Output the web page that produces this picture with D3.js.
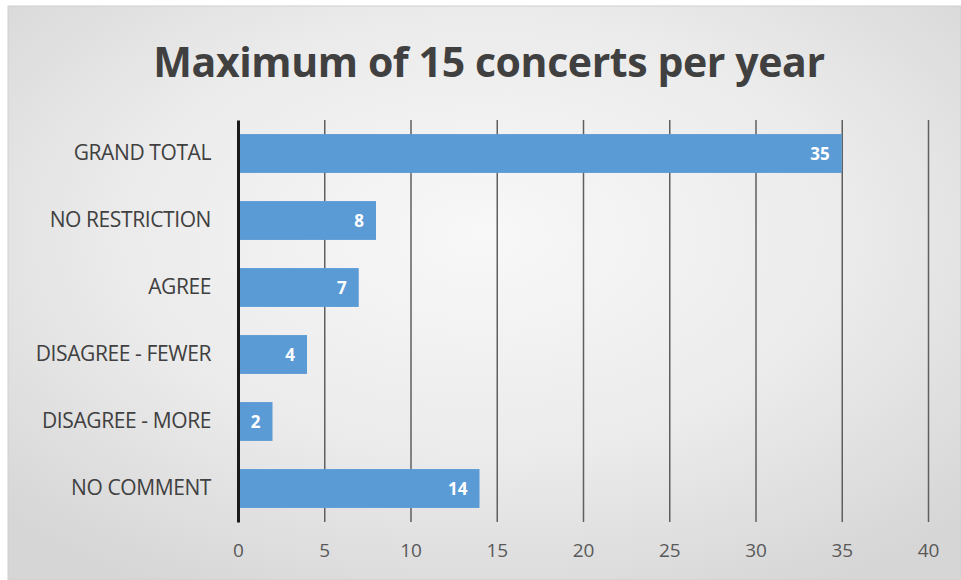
<!DOCTYPE html>
<html>
<head>
<meta charset="utf-8">
<script src="https://cdn.jsdelivr.net/npm/d3@7"></script>
<style>
  html, body { margin: 0; padding: 0; background: #ffffff; }
  svg { display: block; }
</style>
</head>
<body>
<svg id="chart" width="961" height="580"></svg>
<script>
// Survey responses on a cap of 15 concerts per year
const categories = ["GRAND TOTAL", "NO RESTRICTION", "AGREE", "DISAGREE - FEWER", "DISAGREE - MORE", "NO COMMENT"];
const counts = [35, 8, 7, 4, 2, 14];
const xTicks = [0, 5, 10, 15, 20, 25, 30, 35, 40];
const chartTitle = "Maximum of 15 concerts per year";

const W = 961, H = 580;
const svg = d3.select("#chart");

// Soft grey panel background with a lighter centre
const defs = svg.append("defs");
const grad = defs.append("radialGradient")
  .attr("id", "bg").attr("cx", "50%").attr("cy", "40%").attr("r", "70%");
grad.append("stop").attr("offset", "0%").attr("stop-color", "#f8f8f8");
grad.append("stop").attr("offset", "55%").attr("stop-color", "#ebebeb");
grad.append("stop").attr("offset", "100%").attr("stop-color", "#d6d6d6");

svg.append("rect").attr("x", 0).attr("y", 0).attr("width", W).attr("height", H).attr("fill", "#ffffff");
svg.append("rect")
  .attr("x", 8).attr("y", 6).attr("width", W - 8).attr("height", H - 6)
  .attr("fill", "url(#bg)")
  .attr("stroke", "#cfcfcf").attr("stroke-width", 1);

const margin = { left: 238, top: 120 };
const plotH = 402;

const x = d3.scaleLinear().domain([0, 40]).range([margin.left, margin.left + 690]);
const y = d3.scaleBand().domain(categories).range([margin.top, margin.top + plotH]).paddingInner(0.42).paddingOuter(0.21);

// Title
svg.append("text")
  .attr("x", 489).attr("y", 77)
  .attr("text-anchor", "middle")
  .attr("font-family", "'Open Sans', sans-serif")
  .attr("font-weight", 700)
  .attr("font-size", 41)
  .attr("letter-spacing", -0.4)
  .attr("fill", "#404040")
  .text(chartTitle);

// Vertical gridlines
const gridAxis = d3.axisBottom(x).tickValues(xTicks.slice(1)).tickSize(-plotH).tickFormat("");
const grid = svg.append("g")
  .attr("transform", `translate(0,${margin.top + plotH})`)
  .call(gridAxis);
grid.select(".domain").remove();
grid.selectAll(".tick line").attr("stroke", "#5f5f5f").attr("stroke-width", 1.5);

const rows = categories.map((c, i) => ({ c, v: counts[i] }));

// Bars
svg.append("g").selectAll("rect")
  .data(rows)
  .join("rect")
  .attr("x", x(0))
  .attr("y", d => y(d.c))
  .attr("width", d => x(d.v) - x(0))
  .attr("height", y.bandwidth())
  .attr("fill", "#5b9bd5");

// Value labels inside bar ends
svg.append("g").selectAll("text")
  .data(rows)
  .join("text")
  .attr("x", d => x(d.v) - 12)
  .attr("y", d => y(d.c) + y.bandwidth() / 2)
  .attr("dy", "0.36em")
  .attr("text-anchor", "end")
  .attr("font-family", "'Open Sans', sans-serif")
  .attr("font-weight", 700)
  .attr("font-size", 17)
  .attr("fill", "#ffffff")
  .text(d => d.v);

// Category axis
const yAxis = d3.axisLeft(y).tickSize(0).tickPadding(27);
const yg = svg.append("g").attr("transform", `translate(${margin.left},0)`).call(yAxis);
yg.select(".domain").attr("stroke", "#1a1a1a").attr("stroke-width", 3);
yg.selectAll(".tick text")
  .attr("font-family", "'Open Sans', sans-serif")
  .attr("font-size", 21)
  .attr("letter-spacing", -0.4)
  .attr("fill", "#404040");

// Value axis labels
const xAxis = d3.axisBottom(x).tickValues(xTicks).tickSize(0).tickPadding(22);
const xg = svg.append("g").attr("transform", `translate(0,${margin.top + plotH})`).call(xAxis);
xg.select(".domain").remove();
xg.selectAll(".tick text")
  .attr("font-family", "'Open Sans', sans-serif")
  .attr("font-size", 19)
  .attr("fill", "#595959");
</script>
</body>
</html>
